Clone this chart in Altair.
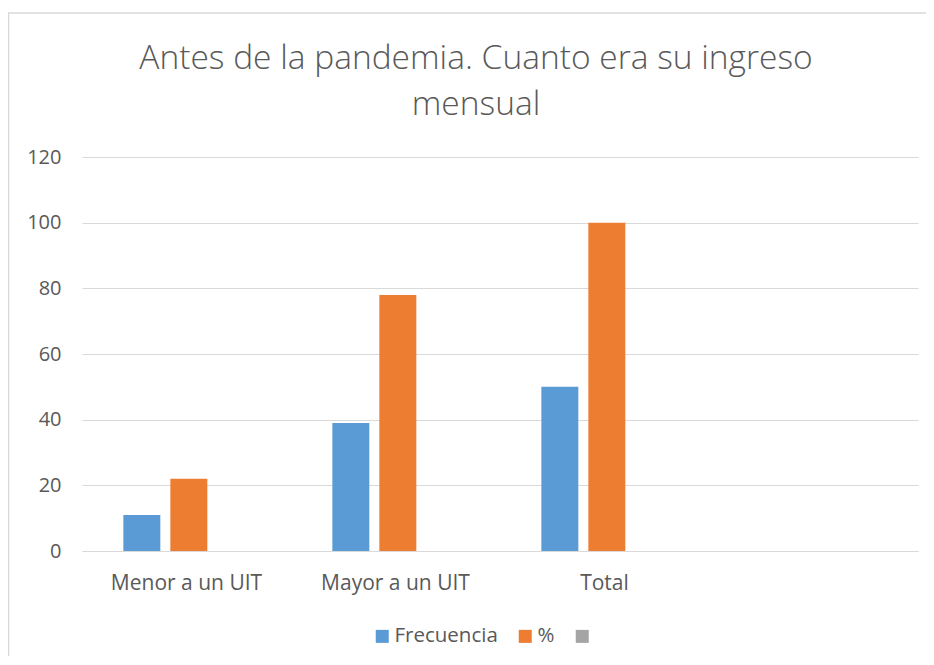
import altair as alt
import pandas as pd

categorias = ["Menor a un UIT", "Mayor a un UIT", "Total"]
categoria_vacia = " "
series = ["Frecuencia", "%", "  "]
frecuencia = [11, 39, 50]
porcentaje = [22, 78, 100]
colores = ["#5B9BD5", "#ED7D31", "#A5A5A5"]
y_ticks = [0, 20, 40, 60, 80, 100, 120]
titulo = ["Antes de la pandemia. Cuanto era su ingreso", "mensual"]

rows = []
for c, f, p in zip(categorias, frecuencia, porcentaje):
    rows.append({"categoria": c, "serie": series[0], "valor": f})
    rows.append({"categoria": c, "serie": series[1], "valor": p})
df = pd.DataFrame(rows)

FONT = "Open Sans"
TXT = "#595959"
GRID = "#D9D9D9"
W, H = 836, 394

bars = alt.Chart(df).mark_bar().encode(
    x=alt.X(
        "categoria:N",
        scale=alt.Scale(domain=categorias + [categoria_vacia], paddingInner=0, paddingOuter=0),
        axis=alt.Axis(
            title=None, labelAngle=0, ticks=False, domain=True, domainColor=GRID,
            domainWidth=1, labelPadding=21, labelFontSize=21, labelColor=TXT,
            labelFont=FONT, grid=False,
        ),
    ),
    xOffset=alt.XOffset(
        "serie:N",
        scale=alt.Scale(domain=series, paddingInner=0.213, paddingOuter=0.83, align=0.53),
    ),
    y=alt.Y(
        "valor:Q",
        scale=alt.Scale(domain=[0, 120]),
        axis=alt.Axis(
            title=None, values=y_ticks, ticks=False, domain=False, grid=True,
            gridColor=GRID, gridWidth=1, labelPadding=21, labelFontSize=20,
            labelColor=TXT, labelFont=FONT,
        ),
    ),
    color=alt.Color(
        "serie:N",
        scale=alt.Scale(domain=series, range=colores),
        legend=alt.Legend(
            title=None, orient="none", legendX=290, legendY=469,
            direction="horizontal", symbolType="square", symbolSize=169,
            symbolStrokeWidth=0, labelFontSize=20.5, labelColor=TXT, labelFont=FONT,
            labelOffset=2, columnPadding=17, padding=0,
        ),
    ),
)

borde_df = pd.DataFrame({"k": [0]})
borde_sup = alt.Chart(borde_df).mark_rule(color=GRID, strokeWidth=1.5).encode(
    x=alt.value(-74), x2=alt.value(W + 10), y=alt.value(-144)
)
borde_izq = alt.Chart(borde_df).mark_rule(color=GRID, strokeWidth=1.5).encode(
    x=alt.value(-73.5), y=alt.value(-144), y2=alt.value(H + 120)
)

chart = (
    alt.layer(bars, borde_sup, borde_izq)
    .properties(
        width=W,
        height=H,
        autosize=alt.AutoSizeParams(type="none"),
        padding={"left": 74, "top": 149, "right": 8, "bottom": 105},
        title=alt.TitleParams(
            text=titulo, anchor="middle", frame="group", dx=-24, offset=-110,
            fontSize=33.5, font=FONT, fontWeight=300, color=TXT, lineHeight=46,
        ),
    )
    .configure_view(stroke=None)
)

chart.save("out.html", embed_options={"renderer": "svg", "actions": False})
